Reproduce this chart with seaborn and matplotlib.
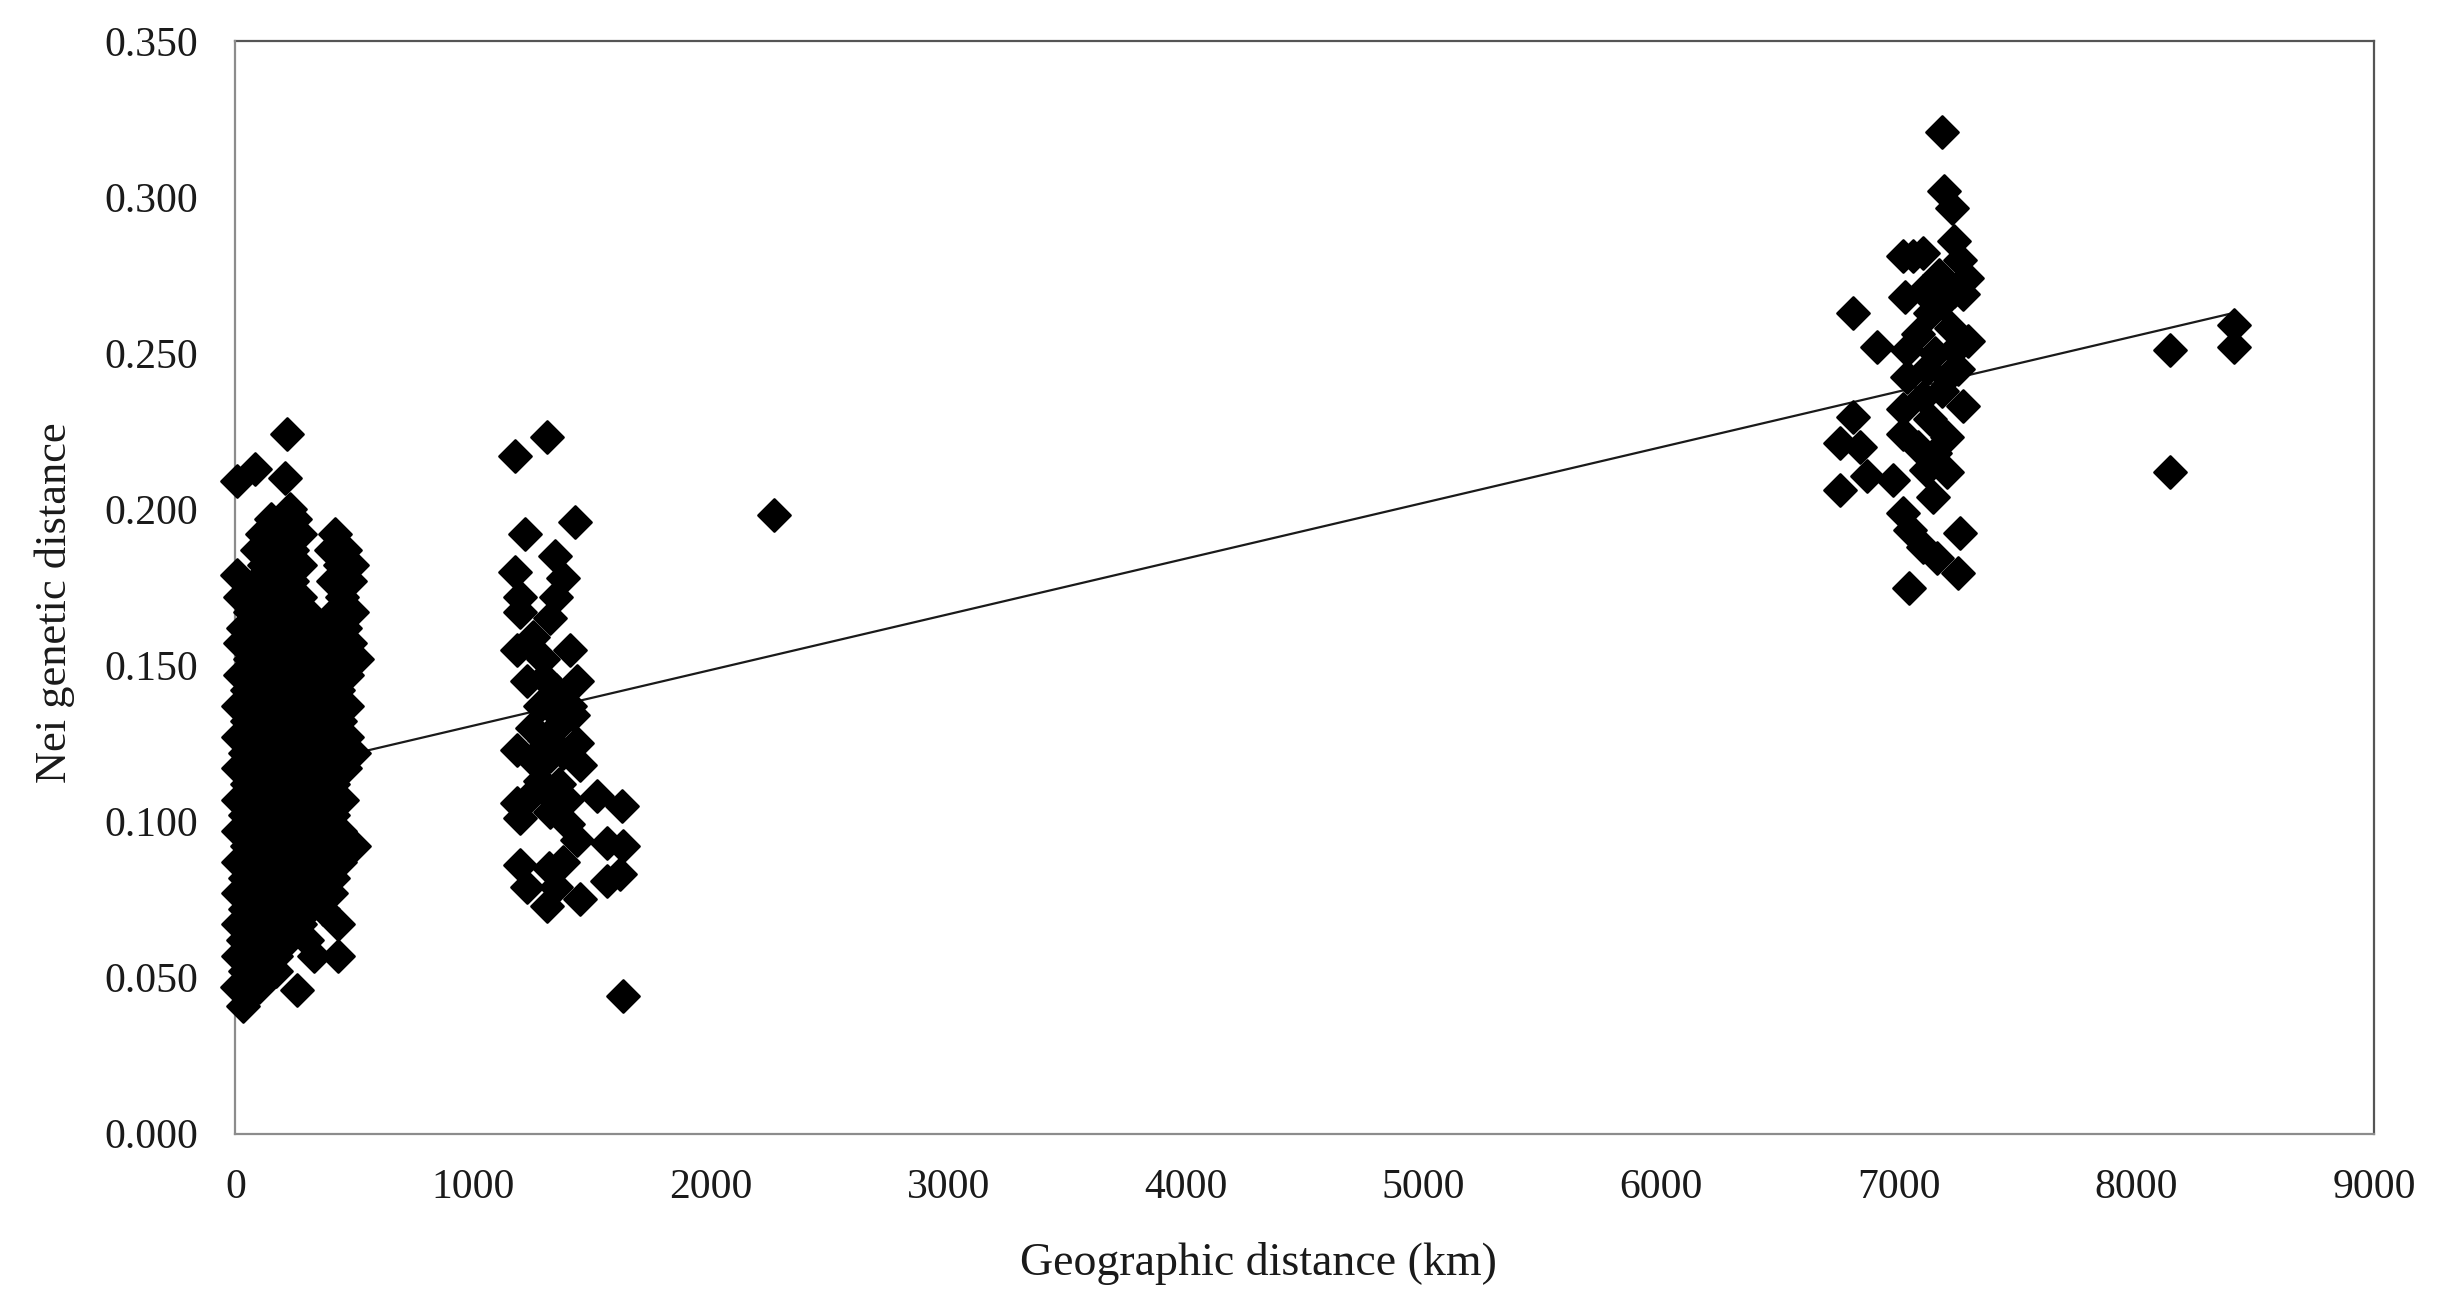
import matplotlib
matplotlib.use("Agg")
import matplotlib.pyplot as plt
import seaborn as sns
import pandas as pd
from matplotlib.ticker import FormatStrFormatter, FixedLocator

# ---------------- data (km, Nei distance) ----------------
cluster_near = [
    (218, 0.224), (84, 0.213), (210, 0.210), (8, 0.209),
    (230, 0.200), (150, 0.197), (250, 0.197),
    (110, 0.192), (200, 0.192), (270, 0.192), (420, 0.192),
    (90, 0.187), (160, 0.187), (240, 0.187), (400, 0.187), (460, 0.187),
    (120, 0.182), (200, 0.182), (270, 0.182), (440, 0.182), (490, 0.182),
    (5, 0.179),
    (90, 0.177), (160, 0.177), (240, 0.177), (410, 0.177), (480, 0.177),
    (20, 0.172), (120, 0.172), (200, 0.172), (270, 0.172), (450, 0.172),
    (60, 0.167), (150, 0.167), (230, 0.167), (300, 0.167), (420, 0.167), (490, 0.167),
    (30, 0.162), (100, 0.162), (190, 0.162), (260, 0.162), (350, 0.162), (460, 0.162),
    (20, 0.157), (140, 0.157), (220, 0.157), (300, 0.157), (400, 0.157), (480, 0.157),
    (60, 0.152), (180, 0.152), (260, 0.152), (340, 0.152), (430, 0.152), (510, 0.152),
    (20, 0.147), (110, 0.147), (220, 0.147), (300, 0.147), (380, 0.147), (470, 0.147),
    (50, 0.142), (160, 0.142), (260, 0.142), (340, 0.142), (430, 0.142),
    (10, 0.137), (110, 0.137), (210, 0.137), (300, 0.137), (390, 0.137), (470, 0.137),
    (50, 0.132), (160, 0.132), (250, 0.132), (340, 0.132), (440, 0.132),
    (10, 0.127), (100, 0.127), (200, 0.127), (290, 0.127), (380, 0.127), (470, 0.127),
    (40, 0.122), (150, 0.122), (240, 0.122), (330, 0.122), (420, 0.122), (500, 0.122),
    (10, 0.117), (100, 0.117), (190, 0.117), (280, 0.117), (370, 0.117), (460, 0.117),
    (50, 0.112), (140, 0.112), (230, 0.112), (320, 0.112), (410, 0.112),
    (10, 0.107), (100, 0.107), (190, 0.107), (280, 0.107), (370, 0.107), (450, 0.107),
    (40, 0.102), (140, 0.102), (230, 0.102), (320, 0.102), (410, 0.102),
    (10, 0.097), (90, 0.097), (180, 0.097), (270, 0.097), (360, 0.097), (440, 0.097),
    (50, 0.092), (140, 0.092), (230, 0.092), (320, 0.092), (410, 0.092), (500, 0.092),
    (10, 0.087), (100, 0.087), (190, 0.087), (280, 0.087), (370, 0.087), (440, 0.087),
    (40, 0.082), (140, 0.082), (230, 0.082), (320, 0.082), (410, 0.082),
    (10, 0.077), (90, 0.077), (180, 0.077), (270, 0.077), (360, 0.077), (400, 0.077),
    (40, 0.072), (130, 0.072), (220, 0.072), (310, 0.072), (370, 0.072),
    (10, 0.067), (100, 0.067), (190, 0.067), (270, 0.067), (430, 0.067),
    (30, 0.062), (130, 0.062), (220, 0.062), (300, 0.062),
    (10, 0.057), (90, 0.057), (170, 0.057), (330, 0.057), (430, 0.057),
    (40, 0.052), (170, 0.052),
    (5, 0.047), (100, 0.047), (257, 0.046),
    (33, 0.041),
]

cluster_mid = [
    (1176, 0.217), (1310, 0.223), (1218, 0.192), (1429, 0.196), (1345, 0.185),
    (1176, 0.180), (1378, 0.178), (1197, 0.172), (1350, 0.172), (1197, 0.167),
    (1324, 0.165), (1253, 0.159), (1408, 0.155), (1184, 0.155), (1295, 0.152),
    (1226, 0.145), (1436, 0.145), (1350, 0.142), (1300, 0.146), (1282, 0.137),
    (1408, 0.137), (1320, 0.137), (1420, 0.134), (1250, 0.130), (1350, 0.130),
    (1300, 0.126), (1184, 0.123), (1436, 0.125), (1250, 0.120), (1324, 0.121),
    (1380, 0.122), (1450, 0.118), (1282, 0.113), (1360, 0.112), (1240, 0.108),
    (1300, 0.110), (1184, 0.106), (1197, 0.101), (1324, 0.103), (1395, 0.107),
    (1521, 0.108), (1627, 0.105), (1436, 0.094), (1400, 0.099), (1563, 0.093),
    (1631, 0.092), (1197, 0.086), (1378, 0.087), (1320, 0.085), (1563, 0.081),
    (1618, 0.083), (1226, 0.079), (1350, 0.079), (1310, 0.073), (1450, 0.075),
    (1631, 0.044),
]

outlier_2000 = [(2265, 0.198)]

cluster_far = [
    (7181, 0.321), (7188, 0.302), (7223, 0.2965), (7230, 0.286), (7019, 0.281),
    (7102, 0.282), (7060, 0.281), (7258, 0.280), (7286, 0.274), (7170, 0.275),
    (7270, 0.269), (7230, 0.270), (6808, 0.263), (7027, 0.268), (7100, 0.270),
    (7132, 0.263), (7180, 0.266), (6908, 0.252), (7079, 0.256), (7220, 0.258),
    (7290, 0.254), (7035, 0.251), (7230, 0.251), (7150, 0.250), (7035, 0.2425),
    (7203, 0.2425), (7120, 0.245), (7250, 0.245), (7272, 0.233), (7019, 0.232),
    (6808, 0.2297), (7132, 0.229), (7100, 0.236), (7180, 0.238), (6753, 0.2212),
    (6837, 0.220), (7019, 0.224), (7203, 0.223), (7150, 0.218), (7080, 0.220),
    (6866, 0.2105), (6977, 0.2094), (7116, 0.2125), (7203, 0.212), (6753, 0.2063),
    (7145, 0.204), (7258, 0.1924), (7019, 0.1988), (7048, 0.1934), (7102, 0.188),
    (7160, 0.1845), (7250, 0.1797), (7041, 0.1748),
]

cluster_8000 = [(8140, 0.251), (8140, 0.212), (8410, 0.259), (8410, 0.252)]

trend_intercept = 0.1128
trend_slope = 1.785e-5

x_ticks = [0, 1000, 2000, 3000, 4000, 5000, 6000, 7000, 8000, 9000]
y_ticks = [0.000, 0.050, 0.100, 0.150, 0.200, 0.250, 0.300, 0.350]

x_label = "Geographic distance (km)"
y_label = "Nei genetic distance"

# ---------------- build frame ----------------
points = cluster_near + cluster_mid + outlier_2000 + cluster_far + cluster_8000
df = pd.DataFrame(points, columns=["km", "nei"])

sns.set_theme(style="white")
plt.rcParams["font.family"] = ["Liberation Serif", "DejaVu Serif"]

fig = plt.figure(figsize=(24.4, 12.99), dpi=100)
ax = fig.add_axes([0.0965, 0.1274, 0.8765, 0.8410])

x_line = [df["km"].min(), df["km"].max()]
trend = pd.DataFrame({"km": x_line,
                      "nei": [trend_intercept + trend_slope * v for v in x_line]})
sns.lineplot(data=trend, x="km", y="nei", ax=ax, color="#1a1a1a",
             linewidth=1.6, zorder=2)

sns.scatterplot(data=df, x="km", y="nei", ax=ax, marker="D", s=270,
                color="black", edgecolor="black", linewidth=1.8,
                legend=False, zorder=5, clip_on=False)

ax.set_xlim(0, 9000)
ax.set_ylim(0, 0.35)
ax.xaxis.set_major_locator(FixedLocator(x_ticks))
ax.yaxis.set_major_locator(FixedLocator(y_ticks))
ax.yaxis.set_major_formatter(FormatStrFormatter("%.3f"))
ax.xaxis.set_major_formatter(FormatStrFormatter("%d"))

ax.set_xlabel(x_label, fontsize=33, color="#1a1a1a")
ax.xaxis.set_label_coords(0.4785, -0.099)
ax.set_ylabel(y_label, fontsize=32, color="#1a1a1a")
ax.yaxis.set_label_coords(-0.075, 0.486)

for side in ["left", "bottom"]:
    ax.spines[side].set_color("#8c8c8c")
    ax.spines[side].set_linewidth(1.6)
    ax.spines[side].set_zorder(4)
for side in ["top", "right"]:
    ax.spines[side].set_color("#555555")
    ax.spines[side].set_linewidth(1.6)

ax.tick_params(axis="both", direction="out", length=11, width=1.4,
               color="#8c8c8c", labelsize=30, labelcolor="#1a1a1a")
ax.tick_params(axis="x", pad=14)
ax.tick_params(axis="y", pad=16)
ax.grid(False)

fig.savefig("out.png", dpi=100, facecolor="white")
